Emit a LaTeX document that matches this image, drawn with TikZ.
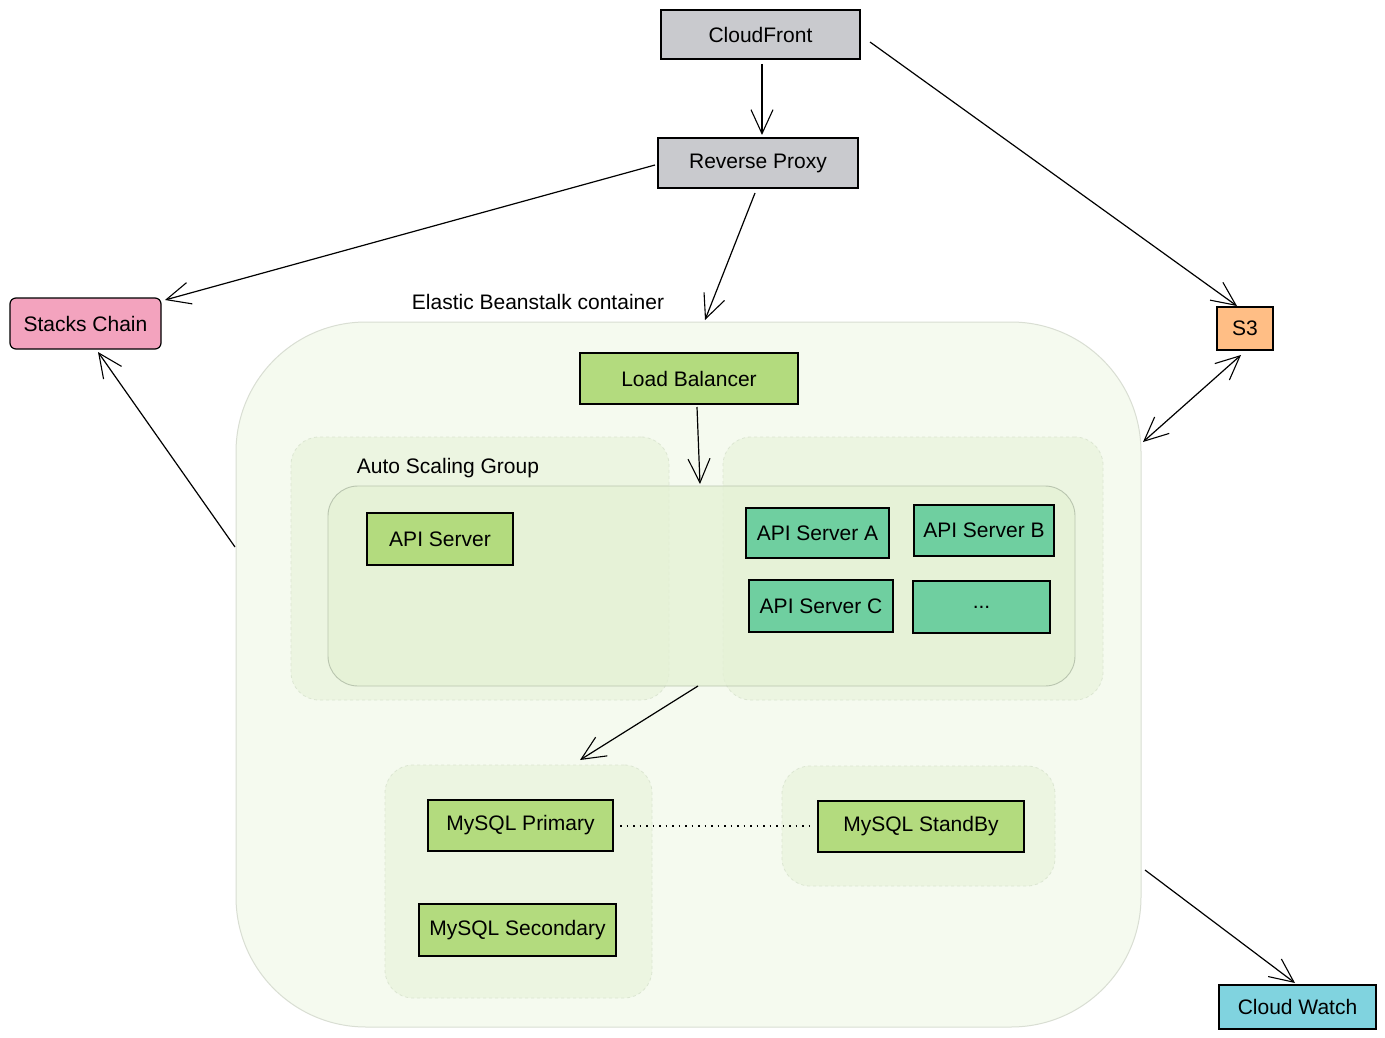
\documentclass[tikz,border=0pt]{standalone}
\usepackage{fontspec}
\setmainfont{Liberation Sans}
\usetikzlibrary{arrows.meta}
\definecolor{greyfill}{HTML}{C9CACE}
\definecolor{pinkfill}{HTML}{F3A3BE}
\definecolor{orangefill}{HTML}{FFBE85}
\definecolor{cyanfill}{HTML}{80D3DF}
\definecolor{greenfill}{HTML}{B3DB7E}
\definecolor{tealfill}{HTML}{6FCFA0}
\definecolor{ebsfill}{HTML}{F5FAEF}
\definecolor{ebsline}{HTML}{D9DED3}
\definecolor{regionfill}{HTML}{ECF5E1}
\definecolor{regionline}{HTML}{DCE6D2}
\definecolor{innerfill}{HTML}{E4F1D4}
\definecolor{innerline}{HTML}{B9C5AF}
\tikzset{
  box/.style={draw=black, line width=1.2pt, inner sep=0pt, font=\fontsize{21}{24}\selectfont},
  tip/.style={-{Straight Barb[length=24pt,width=22pt,line width=1.1pt]}, line width=1.2pt},
  dtip/.style={{Straight Barb[length=24pt,width=22pt,line width=1.1pt]}-{Straight Barb[length=24pt,width=22pt,line width=1.1pt]}, line width=1.2pt},
  region/.style={draw=regionline, dashed, fill=regionfill, rounded corners=28pt, line width=0.8pt, inner sep=0pt},
  lbl/.style={font=\fontsize{21}{24}\selectfont, inner sep=0pt}
}
\begin{document}
\begin{tikzpicture}[x=1pt,y=-1pt]
\useasboundingbox[fill=white] (0,0) rectangle (1385,1038);
% container
\node[draw=ebsline, fill=ebsfill, line width=1pt, rounded corners=130pt, minimum width=905pt, minimum height=705pt, inner sep=0pt] (ebs) at (688.5,674.5) {};
\node[lbl] (ebslbl) at (538,302) {Elastic Beanstalk container};
% auto scaling regions
\node[region, minimum width=378pt, minimum height=263pt] (asgL) at (480,568.5) {};
\node[region, minimum width=380pt, minimum height=263pt] (asgR) at (913,568.5) {};
\node[draw=innerline, fill=innerfill, fill opacity=0.75, draw opacity=1, rounded corners=30pt, line width=0.9pt, minimum width=747pt, minimum height=200pt, inner sep=0pt] (asg) at (701.5,586) {};
\node[lbl] (asglbl) at (448,468) {Auto Scaling Group};
% mysql regions
\node[region, minimum width=267pt, minimum height=233pt] (dbL) at (518.5,881.5) {};
\node[region, minimum width=273pt, minimum height=120pt] (dbR) at (918.5,826) {};
% top nodes
\node[box, fill=greyfill, minimum width=199pt, minimum height=49pt] (cf) at (760.5,34.5) {CloudFront};
\node[box, fill=greyfill, minimum width=200pt, minimum height=50pt] (rp) at (758,163) {Reverse Proxy};
\node[box, fill=pinkfill, rounded corners=6pt, minimum width=151pt, minimum height=51pt] (sc) at (85.5,323.5) {Stacks Chain};
\node[box, fill=orangefill, minimum width=56pt, minimum height=43pt] (s3) at (1245,328.5) {S3};
\node[box, fill=cyanfill, minimum width=157pt, minimum height=44pt] (cw) at (1297.5,1007) {Cloud Watch};
% inside
\node[box, fill=greenfill, minimum width=218pt, minimum height=51pt] (lb) at (689,378.5) {Load Balancer};
\node[box, fill=greenfill, minimum width=146pt, minimum height=52pt] (api) at (440,539) {API Server};
\node[box, fill=tealfill, minimum width=143pt, minimum height=50pt] (apia) at (817.5,533) {API Server A};
\node[box, fill=tealfill, minimum width=140pt, minimum height=51pt] (apib) at (984,530.5) {API Server B};
\node[box, fill=tealfill, minimum width=144pt, minimum height=52pt] (apic) at (821,606) {API Server C};
\node[box, fill=tealfill, minimum width=137pt, minimum height=52pt] (more) at (981.5,607) {...};
\node[box, fill=greenfill, minimum width=185pt, minimum height=51pt] (mp) at (520.5,825.5) {MySQL Primary};
\node[box, fill=greenfill, minimum width=197pt, minimum height=52pt] (ms) at (517.5,930) {MySQL Secondary};
\node[box, fill=greenfill, minimum width=206pt, minimum height=51pt] (msb) at (921,826.5) {MySQL StandBy};
% connector end points
\coordinate (cfB) at (762,64);
\coordinate (rpT) at (762,135);
\coordinate (cfR) at (870,42);
\coordinate (s3T) at (1237,306);
\coordinate (rpL) at (655,165);
\coordinate (scR) at (165,300);
\coordinate (rpB) at (755,193);
\coordinate (ebsT) at (705,320);
\coordinate (ebsL) at (235,547);
\coordinate (scB) at (98,352);
\coordinate (s3B) at (1241,355);
\coordinate (ebsR) at (1143,442);
\coordinate (ebsRB) at (1145,870);
\coordinate (cwT) at (1295,983);
\coordinate (lbB) at (697,407);
\coordinate (asgT) at (700,484);
\coordinate (asgB) at (698,686);
\coordinate (dbT) at (580,760);
\coordinate (mpR) at (620,826);
\coordinate (msbL) at (812,826);
% connectors
\draw[tip] (cfB) -- (rpT);
\draw[tip] (cfR) -- (s3T);
\draw[tip] (rpL) -- (scR);
\draw[tip] (rpB) -- (ebsT);
\draw[tip] (ebsL) -- (scB);
\draw[dtip] (s3B) -- (ebsR);
\draw[tip] (ebsRB) -- (cwT);
\draw[tip] (lbB) -- (asgT);
\draw[tip] (asgB) -- (dbT);
\draw[line width=1.3pt, dash pattern=on 1.5pt off 5pt] (mpR) -- (msbL);
\end{tikzpicture}
\end{document}
